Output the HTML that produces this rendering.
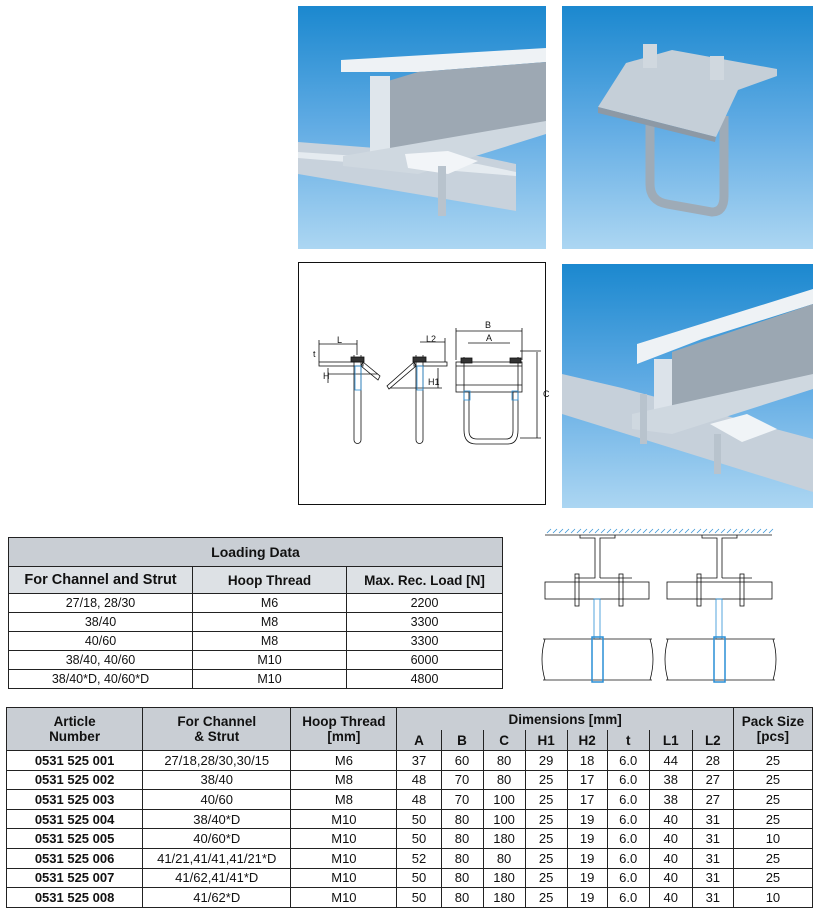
<!DOCTYPE html>
<html><head><meta charset="utf-8"><style>
body{margin:0;width:819px;height:916px;background:#fff;position:relative;overflow:hidden;font-family:"Liberation Sans",sans-serif;color:#111}
.abs{position:absolute}
table{border-collapse:collapse;position:absolute;table-layout:fixed}
td,th{border:1px solid #222;text-align:center;padding:0;font-size:12.5px}
#lt{left:8px;top:537px;width:494px}
#lt th{font-weight:bold;font-size:13.5px}
#lt td{height:18px}
#bt{left:6px;top:707px;width:807px}
#bt td{height:18.6px;font-size:13px}
#bt td.a{font-weight:bold}
#bt th{background:#c9ced4;font-size:13.5px;line-height:15px}
</style></head><body>
<svg class="abs" style="left:0;top:0" width="819" height="710">
<defs>
<linearGradient id="sky" x1="0" y1="0" x2="0" y2="1"><stop offset="0" stop-color="#1b88cf"/><stop offset="0.5" stop-color="#62ace4"/><stop offset="1" stop-color="#acd6f2"/></linearGradient>
</defs>
<svg x="298" y="6" width="248" height="243"><rect width="248" height="243" fill="url(#sky)"/>
<polygon points="0,136 180,150 218,158 218,205 0,168" fill="#c8d2dc"/>
<polygon points="0,146 180,158 218,166 218,170 0,152" fill="#e5ebf0"/>
<polygon points="43,54 248,42 248,56 120,66 43,66" fill="#eef2f5"/>
<polygon points="120,66 248,56 248,122 90,155 90,75" fill="#9da8b3"/>
<polygon points="72,70 92,70 92,150 72,150" fill="#dfe6ec"/>
<polygon points="45,150 248,115 248,128 120,168 45,160" fill="#cfd8e0"/>
<polygon points="107,148 150,145 180,155 150,168 110,162" fill="#f2f5f8"/>
<rect x="140" y="160" width="8" height="50" fill="#b8c3cd"/>
</svg>
<svg x="562" y="6" width="251" height="243"><rect width="251" height="243" fill="url(#sky)"/>
<path d="M88 118 V178 Q88 195 105 198 L150 206 Q162 206 162 190 V110" fill="none" stroke="#9eabb7" stroke-width="9"/>
<polygon points="36,101 64,57 110,44 215,63 215,70 176,84 154,131" fill="#c5cfd8"/>
<polygon points="36,101 154,131 153,136 36,107" fill="#8d99a5"/>
<rect x="81" y="38" width="14" height="24" fill="#d0d8df"/><rect x="148" y="50" width="14" height="24" fill="#d0d8df"/>
</svg>
<svg x="562" y="264" width="251" height="244"><rect width="251" height="244" fill="url(#sky)"/>
<polygon points="0,110 60,124 251,175 251,228 0,150" fill="#c6d0da"/>
<polygon points="75,80 251,25 251,40 140,75 75,100" fill="#eef2f5"/>
<polygon points="110,88 251,40 251,120 110,150" fill="#9ba7b2"/>
<rect x="92" y="95" width="18" height="62" fill="#dce3ea"/>
<polygon points="70,150 251,110 251,125 110,170 70,165" fill="#cfd8e0"/>
<polygon points="148,160 185,150 215,165 180,178" fill="#f0f4f7"/>
<rect x="152" y="170" width="7" height="40" fill="#b8c3cd"/><rect x="78" y="130" width="7" height="50" fill="#b8c3cd"/>
</svg>
<rect x="298.5" y="262.5" width="247" height="242" fill="#fff" stroke="#111"/>
<g stroke="#111" stroke-width="0.8" fill="none" font-family="Liberation Sans" font-size="9">
<rect x="319" y="362" width="44" height="4"/><polygon points="363,362 380,376 378,380 361,366"/>
<path d="M354 355 V440 a3.5 3.5 0 0 0 7 0 V355"/><rect x="351" y="357" width="13" height="5" fill="#333"/>
<path d="M319 344 H357 M319 340 V362 M357 340 V355 M328 374 H378 M328 368 V383"/>
<rect x="355" y="366" width="6" height="24" stroke="#2a8fd6"/>
<rect x="414" y="362" width="33" height="4"/><polygon points="414,362 387,386 389,389 416,366"/>
<path d="M416 355 V440 a3.5 3.5 0 0 0 7 0 V355"/><rect x="413" y="357" width="13" height="5" fill="#333"/>
<path d="M420 342 H445 M445 338 V362 M390 388 H442 M438 368 V388"/>
<rect x="417" y="366" width="6" height="24" stroke="#2a8fd6"/>
<rect x="456" y="362" width="66" height="30"/><path d="M456 366 H522 M456 385 H522"/>
<path d="M464 357 V430 Q464 444 476 444 H508 Q518 444 518 430 V357 M469 392 V431 Q469 439 477 439 H506 Q513 439 513 431 V392"/>
<rect x="461" y="358" width="11" height="5" fill="#333"/><rect x="510" y="358" width="11" height="5" fill="#333"/>
<rect x="464" y="391" width="6" height="9" stroke="#2a8fd6"/><rect x="512" y="391" width="6" height="9" stroke="#2a8fd6"/>
<path d="M456 331 H522 M468 343 H510 M456 328 V360 M522 328 V360 M537 352 V438 M520 351 H541 M520 438 H541"/>
<g fill="#111" stroke="none"><text x="337" y="343">L</text><text x="426" y="342">L2</text><text x="485" y="328">B</text><text x="486" y="341">A</text>
<text x="313" y="357">t</text><text x="323" y="379">H</text><text x="428" y="385">H1</text><text x="543" y="397">C</text></g>
</g>
<g stroke="#111" stroke-width="0.8" fill="none">
<path d="M545 535 H772"/>
<path d="M547 533 l4 -4 M553 533 l4 -4 M559 533 l4 -4 M565 533 l4 -4 M571 533 l4 -4 M577 533 l4 -4 M583 533 l4 -4 M589 533 l4 -4 M595 533 l4 -4 M601 533 l4 -4 M607 533 l4 -4 M613 533 l4 -4 M619 533 l4 -4 M625 533 l4 -4 M631 533 l4 -4 M637 533 l4 -4 M643 533 l4 -4 M649 533 l4 -4 M655 533 l4 -4 M661 533 l4 -4 M667 533 l4 -4 M673 533 l4 -4 M679 533 l4 -4 M685 533 l4 -4 M691 533 l4 -4 M697 533 l4 -4 M703 533 l4 -4 M709 533 l4 -4 M715 533 l4 -4 M721 533 l4 -4 M727 533 l4 -4 M733 533 l4 -4 M739 533 l4 -4 M745 533 l4 -4 M751 533 l4 -4 M757 533 l4 -4 M763 533 l4 -4 M769 533 l4 -4" stroke="#3a96d8"/>
<path d="M580 535 V538 H595 V578 H575 M600 578 V538 H615 V535 M600 578 H632 M595 538 V578"/>
<path d="M702 535 V538 H717 V578 H697 M722 578 V538 H737 V535 M722 578 H752 M717 538 V578"/>
<rect x="545" y="582" width="104" height="17"/><rect x="667" y="582" width="105" height="17"/>
<rect x="575" y="574" width="4" height="32"/><rect x="619" y="574" width="4" height="32"/>
<rect x="697" y="574" width="4" height="32"/><rect x="740" y="574" width="4" height="32"/>
<rect x="594" y="599" width="6" height="40" stroke="#2a8fd6"/><rect x="716" y="599" width="6" height="40" stroke="#2a8fd6"/>
<path d="M543 639 H652 M543 680 H652 M666 639 H775 M666 680 H775 M545 639 q-6 20 0 41 M650 639 q6 20 0 41 M668 639 q-6 20 0 41 M773 639 q6 20 0 41"/>
<rect x="592" y="637" width="11" height="45" stroke="#2a8fd6" stroke-width="1.5"/><rect x="714" y="637" width="11" height="45" stroke="#2a8fd6" stroke-width="1.5"/>
</g>
</svg>
<table id="lt">
<colgroup><col style="width:184px"><col style="width:154px"><col style="width:156px"></colgroup>
<tr><th colspan="3" style="background:#c9ced4;height:28px;font-size:14px">Loading Data</th></tr>
<tr style="background:#dde1e5"><th style="height:26px;font-size:14.5px">For Channel and Strut</th><th>Hoop Thread</th><th>Max. Rec. Load [N]</th></tr>
<tr><td>27/18, 28/30</td><td>M6</td><td>2200</td></tr>
<tr><td>38/40</td><td>M8</td><td>3300</td></tr>
<tr><td>40/60</td><td>M8</td><td>3300</td></tr>
<tr><td>38/40, 40/60</td><td>M10</td><td>6000</td></tr>
<tr><td>38/40*D, 40/60*D</td><td>M10</td><td>4800</td></tr>
</table>
<table id="bt">
<colgroup><col style="width:136px"><col style="width:148px"><col style="width:106px"><col style="width:44px"><col style="width:42px"><col style="width:42px"><col style="width:42px"><col style="width:40px"><col style="width:42px"><col style="width:43px"><col style="width:41px"><col style="width:79px"></colgroup>
<tr><th rowspan="2" style="height:42px">Article<br>Number</th><th rowspan="2">For Channel<br>&amp; Strut</th><th rowspan="2">Hoop Thread<br>[mm]</th><th colspan="8" style="border-bottom:none;height:22px">Dimensions [mm]</th><th rowspan="2">Pack Size<br>[pcs]</th></tr>
<tr><th style="border-top:none">A</th><th style="border-top:none">B</th><th style="border-top:none">C</th><th style="border-top:none">H1</th><th style="border-top:none">H2</th><th style="border-top:none">t</th><th style="border-top:none">L1</th><th style="border-top:none">L2</th></tr>
<tr><td class="a">0531 525 001</td><td>27/18,28/30,30/15</td><td>M6</td><td>37</td><td>60</td><td>80</td><td>29</td><td>18</td><td>6.0</td><td>44</td><td>28</td><td>25</td></tr>
<tr><td class="a">0531 525 002</td><td>38/40</td><td>M8</td><td>48</td><td>70</td><td>80</td><td>25</td><td>17</td><td>6.0</td><td>38</td><td>27</td><td>25</td></tr>
<tr><td class="a">0531 525 003</td><td>40/60</td><td>M8</td><td>48</td><td>70</td><td>100</td><td>25</td><td>17</td><td>6.0</td><td>38</td><td>27</td><td>25</td></tr>
<tr><td class="a">0531 525 004</td><td>38/40*D</td><td>M10</td><td>50</td><td>80</td><td>100</td><td>25</td><td>19</td><td>6.0</td><td>40</td><td>31</td><td>25</td></tr>
<tr><td class="a">0531 525 005</td><td>40/60*D</td><td>M10</td><td>50</td><td>80</td><td>180</td><td>25</td><td>19</td><td>6.0</td><td>40</td><td>31</td><td>10</td></tr>
<tr><td class="a">0531 525 006</td><td>41/21,41/41,41/21*D</td><td>M10</td><td>52</td><td>80</td><td>80</td><td>25</td><td>19</td><td>6.0</td><td>40</td><td>31</td><td>25</td></tr>
<tr><td class="a">0531 525 007</td><td>41/62,41/41*D</td><td>M10</td><td>50</td><td>80</td><td>180</td><td>25</td><td>19</td><td>6.0</td><td>40</td><td>31</td><td>25</td></tr>
<tr><td class="a">0531 525 008</td><td>41/62*D</td><td>M10</td><td>50</td><td>80</td><td>180</td><td>25</td><td>19</td><td>6.0</td><td>40</td><td>31</td><td>10</td></tr>
</table>
</body></html>
